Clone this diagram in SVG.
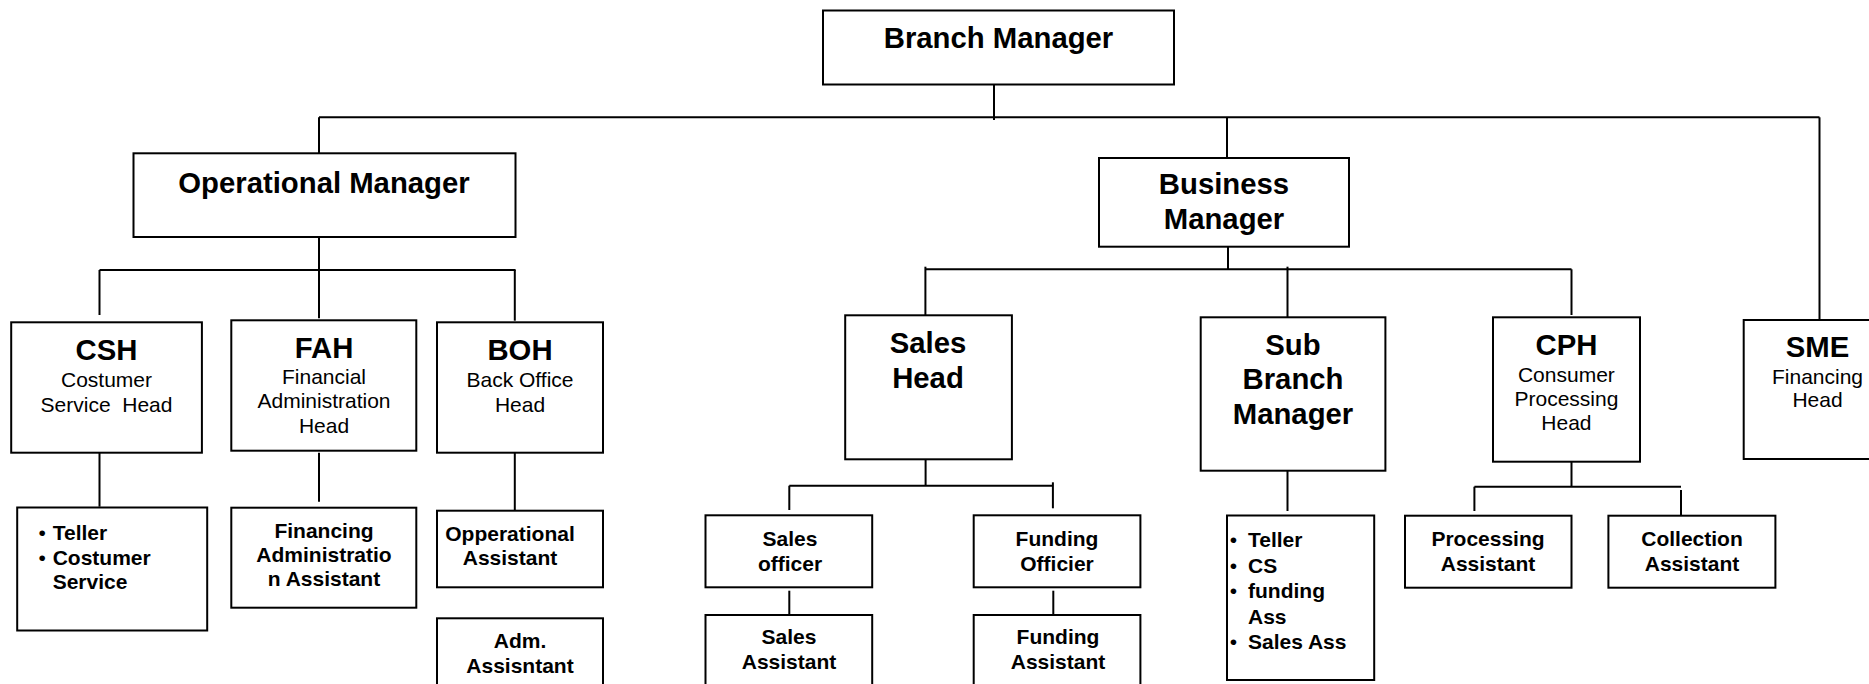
<svg xmlns="http://www.w3.org/2000/svg" width="1869" height="684" viewBox="0 0 1869 684">
  <style>
    .box { fill: #ffffff; stroke: #000000; stroke-width: 2; }
    .link { fill: none; stroke: #000000; stroke-width: 2; }
    text { font-family: "Liberation Sans", Arial, sans-serif; fill: #000000; }
    .title { font-size: 29.3px; font-weight: bold; text-anchor: middle; }
    .sub { font-size: 21px; text-anchor: middle; }
    .item { font-size: 21px; font-weight: bold; text-anchor: middle; }
    .list { font-size: 21px; font-weight: bold; }
    .dot { font-size: 21px; text-anchor: middle; }
  </style>
  <rect width="1869" height="684" fill="#ffffff"/>

  <!-- reporting lines -->
  <g id="connectors">
    <path class="link" d="M994 84 V120"/>
    <path class="link" d="M319 117.3 H1819.5"/>
    <path class="link" d="M319 117.3 V153.3"/>
    <path class="link" d="M1227 117.3 V158"/>
    <path class="link" d="M1819.5 117.3 V320"/>

    <path class="link" d="M319 237 V270"/>
    <path class="link" d="M99.5 270 H515.6"/>
    <path class="link" d="M99.5 270 V315"/>
    <path class="link" d="M319 270 V318.3"/>
    <path class="link" d="M514.8 270 V320.7"/>
    <path class="link" d="M99.5 452.7 V506.7"/>
    <path class="link" d="M319 452.7 V501.7"/>
    <path class="link" d="M514.8 452.7 V510"/>

    <path class="link" d="M1228 246.7 V269.3"/>
    <path class="link" d="M925.4 269.3 H1571.5"/>
    <path class="link" d="M925.4 266.7 V315"/>
    <path class="link" d="M1287.5 266.7 V317.3"/>
    <path class="link" d="M1571.5 269.3 V315"/>

    <path class="link" d="M925.6 459.3 V485.7"/>
    <path class="link" d="M789.3 485.7 H1052.9"/>
    <path class="link" d="M789.3 485.7 V510"/>
    <path class="link" d="M1052.9 482.3 V508.3"/>
    <path class="link" d="M789.3 590.7 V615"/>
    <path class="link" d="M1053.3 590.7 V615"/>

    <path class="link" d="M1287.5 470.7 V511"/>

    <path class="link" d="M1571.5 458.7 V486.7"/>
    <path class="link" d="M1474.4 486.7 H1681"/>
    <path class="link" d="M1474.4 486.7 V511"/>
    <path class="link" d="M1681 490 V515.7"/>
  </g>

  <g id="branch-manager">
    <rect class="box" x="823" y="10.5" width="351" height="74"/>
    <text class="title" x="998.5" y="48.3">Branch Manager</text>
  </g>

  <g id="operational-manager">
    <rect class="box" x="133.5" y="153.3" width="382" height="83.7"/>
    <text class="title" x="324" y="192.7">Operational Manager</text>
  </g>

  <g id="business-manager">
    <rect class="box" x="1099" y="158" width="250" height="88.7"/>
    <text class="title" x="1224" y="194.3">Business</text>
    <text class="title" x="1224" y="229.3">Manager</text>
  </g>

  <g id="csh">
    <rect class="box" x="11.2" y="322.3" width="190.7" height="130.4"/>
    <text class="title" x="106.5" y="360">CSH</text>
    <text class="sub" x="106.5" y="386.7">Costumer</text>
    <text class="sub" x="106.5" y="411.7" xml:space="preserve">Service  Head</text>
  </g>

  <g id="fah">
    <rect class="box" x="231.3" y="320.3" width="185" height="130.4"/>
    <text class="title" x="324" y="357.7">FAH</text>
    <text class="sub" x="324" y="384">Financial</text>
    <text class="sub" x="324" y="408.3">Administration</text>
    <text class="sub" x="324" y="432.7">Head</text>
  </g>

  <g id="boh">
    <rect class="box" x="437" y="322.3" width="166" height="130.4"/>
    <text class="title" x="520" y="360">BOH</text>
    <text class="sub" x="520" y="386.7">Back Office</text>
    <text class="sub" x="520" y="411.7">Head</text>
  </g>

  <g id="csh-staff">
    <rect class="box" x="17.2" y="507.5" width="190" height="123"/>
    <text class="dot" x="42.3" y="540">•</text>
    <text class="list" x="52.7" y="540">Teller</text>
    <text class="dot" x="42.3" y="564.5">•</text>
    <text class="list" x="52.7" y="564.5">Costumer</text>
    <text class="list" x="52.7" y="589.3">Service</text>
  </g>

  <g id="fah-staff">
    <rect class="box" x="231.3" y="507.7" width="185" height="100"/>
    <text class="item" x="324" y="538.3">Financing</text>
    <text class="item" x="324" y="562.2">Administratio</text>
    <text class="item" x="324" y="586">n Assistant</text>
  </g>

  <g id="boh-operational-assistant">
    <rect class="box" x="437" y="510.7" width="166" height="76.6"/>
    <text class="item" x="510" y="540.7">Opperational</text>
    <text class="item" x="510" y="565">Assistant</text>
  </g>

  <g id="boh-adm-assistant">
    <rect class="box" x="437" y="618.3" width="166" height="90"/>
    <text class="item" x="520" y="648.3">Adm.</text>
    <text class="item" x="520" y="672.7">Assisntant</text>
  </g>

  <g id="sales-head">
    <rect class="box" x="845.2" y="315.3" width="166.7" height="144"/>
    <text class="title" x="928" y="352.7">Sales</text>
    <text class="title" x="928" y="387.7">Head</text>
  </g>

  <g id="sub-branch-manager">
    <rect class="box" x="1200.7" y="317.3" width="184.7" height="153.4"/>
    <text class="title" x="1293" y="355">Sub</text>
    <text class="title" x="1293" y="389.3">Branch</text>
    <text class="title" x="1293" y="424">Manager</text>
  </g>

  <g id="cph">
    <rect class="box" x="1493" y="317.3" width="147" height="144.4"/>
    <text class="title" x="1566.4" y="355">CPH</text>
    <text class="sub" x="1566.4" y="381.7">Consumer</text>
    <text class="sub" x="1566.4" y="406">Processing</text>
    <text class="sub" x="1566.4" y="430">Head</text>
  </g>

  <g id="sme">
    <rect class="box" x="1743.7" y="320" width="150" height="139"/>
    <text class="title" x="1817.5" y="356.7">SME</text>
    <text class="sub" x="1817.5" y="383.5">Financing</text>
    <text class="sub" x="1817.5" y="407.3">Head</text>
  </g>

  <g id="sales-officer">
    <rect class="box" x="705.5" y="515.3" width="166.7" height="72"/>
    <text class="item" x="790" y="545.7">Sales</text>
    <text class="item" x="790" y="570.7">officer</text>
  </g>

  <g id="funding-officer">
    <rect class="box" x="973.7" y="515.3" width="166.7" height="72"/>
    <text class="item" x="1057" y="545.7">Funding</text>
    <text class="item" x="1057" y="570.7">Officier</text>
  </g>

  <g id="sales-assistant">
    <rect class="box" x="705.5" y="615" width="166.7" height="90"/>
    <text class="item" x="789" y="644.3">Sales</text>
    <text class="item" x="789" y="669.3">Assistant</text>
  </g>

  <g id="funding-assistant">
    <rect class="box" x="973.7" y="615" width="166.7" height="90"/>
    <text class="item" x="1058" y="644.3">Funding</text>
    <text class="item" x="1058" y="669.3">Assistant</text>
  </g>

  <g id="sub-branch-staff">
    <rect class="box" x="1227" y="515.5" width="147.2" height="164.5"/>
    <text class="dot" x="1233.5" y="547">•</text>
    <text class="list" x="1248" y="547">Teller</text>
    <text class="dot" x="1233.5" y="572.5">•</text>
    <text class="list" x="1248" y="572.5">CS</text>
    <text class="dot" x="1233.5" y="598">•</text>
    <text class="list" x="1248" y="598">funding</text>
    <text class="list" x="1248" y="623.5">Ass</text>
    <text class="dot" x="1233.5" y="649">•</text>
    <text class="list" x="1248" y="649">Sales Ass</text>
  </g>

  <g id="processing-assistant">
    <rect class="box" x="1405" y="515.7" width="166.5" height="72"/>
    <text class="item" x="1488" y="546">Processing</text>
    <text class="item" x="1488" y="570.7">Assistant</text>
  </g>

  <g id="collection-assistant">
    <rect class="box" x="1608.4" y="515.7" width="167" height="72"/>
    <text class="item" x="1692" y="546">Collection</text>
    <text class="item" x="1692" y="570.7">Assistant</text>
  </g>
</svg>
